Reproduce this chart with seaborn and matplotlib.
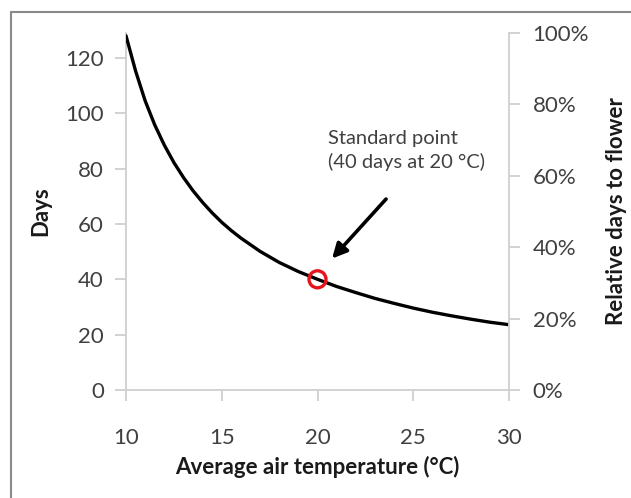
import numpy as np
import pandas as pd
import matplotlib
matplotlib.use("Agg")
import matplotlib.pyplot as plt
from matplotlib.lines import Line2D
from matplotlib.ticker import PercentFormatter
import seaborn as sns

# ---- data ----
temperature = [10, 10.5, 11, 11.5, 12, 12.5, 13, 13.5, 14, 14.5, 15, 15.5,
               16, 17, 18, 19, 20,
               21, 22, 23, 24, 25, 26, 27, 28, 29, 30]
days = [128.0, 115.3, 104.5, 95.8, 88.5, 82.2, 76.8, 72.0, 67.8, 64.0, 60.6, 57.6,
        54.9, 50.1, 46.1, 42.8, 40.0,
        37.4, 35.2, 33.1, 31.3, 29.6, 28.1, 26.8, 25.6, 24.5, 23.6]
standard_temp = [20]
standard_days = [40]
x_ticks = [10, 15, 20, 25, 30]
day_ticks = [0, 20, 40, 60, 80, 100, 120]
pct_ticks = [0.0, 0.2, 0.4, 0.6, 0.8, 1.0]
annotation_text = "Standard point\n(40 days at 20 °C)"

sns.set_theme(style="white")
plt.rcParams["font.family"] = ["Lato", "DejaVu Sans"]

df = pd.DataFrame({"temperature": temperature, "days": days})

fig = plt.figure(figsize=(6.31, 4.98), dpi=100)
ax = fig.add_axes([126 / 631, 108 / 498, 383 / 631, 357 / 498])

sns.lineplot(data=df, x="temperature", y="days", ax=ax, color="black",
             linewidth=2.4, zorder=3)
sns.scatterplot(x=standard_temp, y=standard_days, ax=ax, s=150,
                facecolors="none", edgecolor="#e8141b", linewidth=2.4, zorder=5)

ax.set_xlim(10, 30)
ax.set_ylim(0, 129)
ax.set_xticks(x_ticks)
ax.set_yticks(day_ticks)
grey_spine = "#cfcfcf"
text_col = "#404040"
label_col = "#1a1a1a"
for s in ["top", "right"]:
    ax.spines[s].set_visible(False)
for s in ["left", "bottom"]:
    ax.spines[s].set_color(grey_spine)
    ax.spines[s].set_linewidth(1.3)
ax.tick_params(axis="y", left=True, direction="out", length=8, width=1.3,
               color=grey_spine, labelsize=16, labelcolor=text_col, pad=8)
ax.tick_params(axis="x", bottom=True, direction="out", length=8, width=1.3,
               color=grey_spine, labelsize=16, labelcolor=text_col, pad=19)
ax.set_xlabel("Average air temperature (°C)", fontsize=16, fontweight="bold",
              color=label_col, labelpad=6)
ax.set_ylabel("Days", fontsize=16, fontweight="bold", color=label_col, labelpad=10)

ax2 = ax.twinx()
ax2.set_ylim(0, 1)
ax2.set_yticks(pct_ticks)
ax2.yaxis.set_major_formatter(PercentFormatter(1.0, decimals=0))
for s in ["top", "left", "bottom"]:
    ax2.spines[s].set_visible(False)
ax2.spines["right"].set_color(grey_spine)
ax2.spines["right"].set_linewidth(1.3)
ax2.tick_params(axis="y", right=True, direction="out", length=8, width=1.3,
                color=grey_spine, labelsize=16, labelcolor=text_col, pad=9)
ax2.set_ylabel("Relative days to flower", fontsize=16, fontweight="bold",
               color=label_col, labelpad=12)
ax2.grid(False)
ax.grid(False)

ax.annotate("", xy=(20.76, 47.5), xytext=(23.58, 69.0),
            arrowprops=dict(arrowstyle="-|>", lw=2.6, color="black",
                            mutation_scale=22, shrinkA=0, shrinkB=0), zorder=6)
ax.text(20.55, 94.0, annotation_text, ha="left", va="top", fontsize=14.5,
        color=text_col, linespacing=1.4)

# figure frame (top and left edges visible in the reference)
fig.add_artist(Line2D([11 / 631, 1.0], [1 - 12 / 498, 1 - 12 / 498],
                      transform=fig.transFigure, color="#8a8a8a", lw=1.5))
fig.add_artist(Line2D([11 / 631, 11 / 631], [0.0, 1 - 12 / 498],
                      transform=fig.transFigure, color="#8a8a8a", lw=1.5))

fig.savefig("out.png", dpi=100)
